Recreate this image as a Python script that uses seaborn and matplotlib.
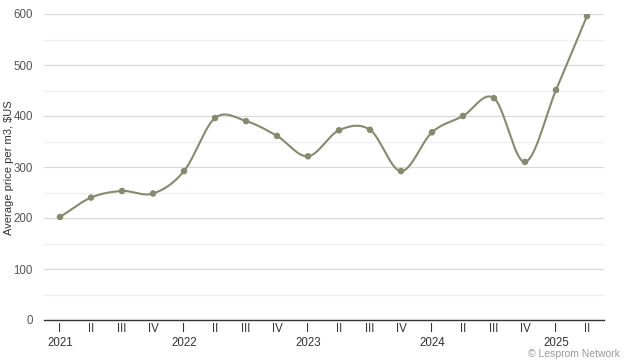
import numpy as np
import pandas as pd
import matplotlib
matplotlib.use("Agg")
import matplotlib.pyplot as plt
import seaborn as sns

quarters = ["I", "II", "III", "IV"] * 4 + ["I", "II"]
years = ["2021", "", "", "", "2022", "", "", "", "2023", "", "", "", "2024", "", "", "", "2025", ""]
prices = [202, 240, 253, 248, 292, 396, 390, 361, 321, 372, 373, 292, 368, 400, 435, 310, 451, 596]

line_color = "#878a6f"

sns.set_theme(style="white")
plt.rcParams["font.family"] = ["Liberation Sans", "DejaVu Sans"]

df = pd.DataFrame({"pos": np.arange(len(prices)), "price": prices})

fig = plt.figure(figsize=(6.24, 3.64), dpi=100)
ax = fig.add_axes([44 / 624, (364 - 320) / 364, 560 / 624, 306 / 364])


def smooth_curve(xs, ys, steps=40):
    """Catmull-Rom style cubic Bezier smoothing through the data points."""
    n = len(xs)
    tx = np.empty(n)
    ty = np.empty(n)
    for i in range(n):
        a = max(i - 1, 0)
        b = min(i + 1, n - 1)
        tx[i] = (xs[b] - xs[a]) / (b - a)
        ty[i] = (ys[b] - ys[a]) / (b - a)
    t = np.linspace(0, 1, steps)
    out_x, out_y = [], []
    for i in range(n - 1):
        p0 = np.array([xs[i], ys[i]])
        p3 = np.array([xs[i + 1], ys[i + 1]])
        p1 = p0 + np.array([tx[i], ty[i]]) / 3
        p2 = p3 - np.array([tx[i + 1], ty[i + 1]]) / 3
        pts = ((1 - t) ** 3)[:, None] * p0 + (3 * (1 - t) ** 2 * t)[:, None] * p1 \
            + (3 * (1 - t) * t ** 2)[:, None] * p2 + (t ** 3)[:, None] * p3
        out_x.extend(pts[:, 0])
        out_y.extend(pts[:, 1])
    return np.array(out_x), np.array(out_y)


sx, sy = smooth_curve(df["pos"].to_numpy(dtype=float), df["price"].to_numpy(dtype=float))
ax.plot(sx, sy, color=line_color, lw=1.5, zorder=3, solid_capstyle="round")
sns.scatterplot(data=df, x="pos", y="price", ax=ax, color=line_color, s=22,
                edgecolor="none", zorder=4, legend=False)

ax.set_xlim(-16 / 31, 17 + 17 / 31)
ax.set_ylim(0, 600)
ax.set_yticks(range(0, 601, 100))
ax.set_yticks(range(50, 600, 100), minor=True)
ax.grid(axis="y", which="major", color="#d9d9d9", lw=0.9, zorder=0)
ax.grid(axis="y", which="minor", color="#eeeeee", lw=0.9, zorder=0)
ax.grid(axis="x", visible=False)

labels = [q + ("\n" + y if y else "\n") for q, y in zip(quarters, years)]
ax.set_xticks(range(len(prices)))
ax.set_xticklabels(labels, linespacing=1.3)
ax.tick_params(axis="x", length=0, pad=2, labelsize=8.3, labelcolor="#333333")
ax.tick_params(axis="y", length=0, pad=8, labelsize=8.3, labelcolor="#555555")
for lab in ax.get_xticklabels():
    lab.set_verticalalignment("top")

for s in ["top", "right", "left"]:
    ax.spines[s].set_visible(False)
ax.spines["bottom"].set_color("#333333")
ax.spines["bottom"].set_linewidth(1.0)

ax.set_xlabel("")
ax.set_ylabel("Average price per m3, $US", fontsize=8, color="#333333")
ax.yaxis.set_label_coords(-30 / 560, (320 - 168) / 306)

fig.text(620 / 624, (364 - 354) / 364, "\u00a9 Lesprom Network", ha="right", va="center",
         fontsize=7.5, color="#999999")

fig.savefig("out.png", dpi=100)
